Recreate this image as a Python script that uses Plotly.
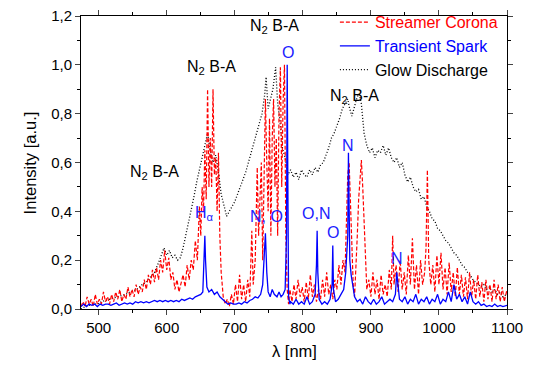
import plotly.graph_objects as go

# ---------------- data ----------------
red_wl = [474, 477, 480, 483, 486, 489, 492, 495, 498, 501, 504, 507, 510, 513, 516, 519, 522, 525, 528, 531,
          534, 537, 540, 543, 546, 549, 552, 555, 558, 561, 564, 567, 570, 573, 576, 579, 582, 585, 588, 591,
          594, 597, 600, 603, 606, 609, 612, 615, 618, 621, 624, 627, 630, 633, 636, 639, 642, 645, 648, 650,
          652, 654, 656, 658, 660, 662, 664, 666, 668, 670, 672, 674, 676, 678, 680, 683, 686, 689, 692, 695,
          698, 701, 704, 707, 710, 713, 716, 719, 722, 725, 727, 730, 733, 735, 737, 739, 741, 743, 745, 747,
          749, 751, 753, 755, 757, 759, 761, 763, 765, 767, 769, 771, 773, 775, 777, 779, 781, 784, 787, 790,
          793, 796, 799, 802, 805, 808, 811, 814, 817, 820, 823, 826, 829, 832, 835, 838, 841, 844, 847, 850,
          853, 856, 859, 862, 864, 866, 868, 870, 872, 874, 876, 878, 880, 882, 884, 886, 888, 890, 892, 894,
          897, 900, 903, 906, 909, 912, 915, 918, 921, 924, 927, 930, 932, 934, 937, 940, 943, 946, 949, 952,
          955, 958, 961, 964, 967, 970, 973, 976, 979, 981, 983, 985, 988, 991, 994, 997, 1000, 1003, 1006, 1009,
          1012, 1015, 1018, 1021, 1024, 1027, 1030, 1033, 1036, 1039, 1042, 1045, 1048, 1051, 1054, 1057, 1060, 1063, 1066, 1069,
          1072, 1075, 1078, 1081, 1084, 1087, 1090, 1093, 1096, 1100]
red_int = [0.01, 0.03, 0.01, 0.05, 0.02, 0.04, 0.01, 0.06, 0.02, 0.04, 0.02, 0.07, 0.03, 0.05, 0.02, 0.06, 0.03, 0.07, 0.04, 0.08,
           0.03, 0.06, 0.04, 0.09, 0.05, 0.08, 0.05, 0.10, 0.06, 0.09, 0.07, 0.12, 0.08, 0.14, 0.10, 0.16, 0.11, 0.17, 0.12, 0.20,
           0.15, 0.24, 0.16, 0.21, 0.12, 0.15, 0.08, 0.12, 0.07, 0.10, 0.14, 0.09, 0.18, 0.12, 0.20, 0.16, 0.28, 0.20, 0.42, 0.30,
           0.50, 0.40, 0.65, 0.45, 0.90, 0.50, 0.70, 0.50, 0.90, 0.55, 0.62, 0.40, 0.64, 0.30, 0.15, 0.05, 0.02, 0.04, 0.01, 0.06,
           0.02, 0.10, 0.03, 0.14, 0.04, 0.10, 0.03, 0.12, 0.05, 0.32, 0.10, 0.20, 0.58, 0.30, 0.45, 0.60, 0.20, 0.50, 0.86, 0.60,
           0.40, 0.78, 0.30, 0.70, 0.86, 0.50, 0.70, 0.30, 0.80, 0.99, 0.50, 0.85, 1.00, 0.30, 0.08, 0.02, 0.08, 0.03, 0.10, 0.04,
           0.12, 0.05, 0.09, 0.03, 0.11, 0.04, 0.14, 0.05, 0.10, 0.03, 0.08, 0.04, 0.12, 0.05, 0.15, 0.06, 0.10, 0.04, 0.12, 0.08,
           0.18, 0.10, 0.20, 0.15, 0.35, 0.55, 0.60, 0.45, 0.30, 0.10, 0.05, 0.15, 0.30, 0.45, 0.55, 0.61, 0.50, 0.35, 0.20, 0.08,
           0.12, 0.05, 0.15, 0.06, 0.12, 0.04, 0.14, 0.06, 0.10, 0.05, 0.16, 0.08, 0.30, 0.10, 0.18, 0.07, 0.20, 0.08, 0.15, 0.06,
           0.22, 0.10, 0.29, 0.08, 0.18, 0.06, 0.20, 0.10, 0.15, 0.25, 0.57, 0.20, 0.10, 0.18, 0.07, 0.22, 0.10, 0.23, 0.08, 0.17,
           0.06, 0.19, 0.07, 0.15, 0.05, 0.17, 0.06, 0.14, 0.05, 0.13, 0.04, 0.15, 0.05, 0.12, 0.04, 0.14, 0.05, 0.11, 0.03, 0.12,
           0.04, 0.10, 0.03, 0.12, 0.04, 0.10, 0.03, 0.09, 0.03, 0.08]

blue_wl = [474, 478, 482, 486, 490, 494, 498, 502, 506, 510, 514, 518, 522, 526, 530, 534, 538, 542, 546, 550,
           554, 558, 562, 566, 570, 574, 578, 582, 586, 590, 594, 598, 602, 606, 610, 614, 618, 622, 626, 630,
           634, 638, 642, 646, 650, 653, 655, 656, 657, 659, 662, 666, 670, 674, 678, 682, 686, 690, 694, 698,
           702, 706, 710, 714, 718, 722, 726, 730, 734, 738, 741, 743, 745, 747, 749, 752, 755, 758, 762, 765,
           768, 771, 774, 776, 777, 778, 779, 781, 782, 786, 790, 794, 798, 802, 806, 810, 814, 818, 820, 821,
           822, 824, 828, 832, 836, 840, 843, 844, 845, 848, 852, 856, 860, 863, 866, 867, 868, 869, 871, 873,
           876, 880, 884, 888, 892, 896, 900, 904, 908, 912, 916, 920, 924, 928, 932, 936, 938, 940, 942, 946,
           950, 954, 958, 962, 966, 970, 974, 978, 982, 986, 990, 994, 998, 1002, 1006, 1010, 1014, 1018, 1022, 1026,
           1030, 1034, 1038, 1042, 1046, 1050, 1054, 1058, 1062, 1066, 1070, 1074, 1078, 1082, 1086, 1090, 1094, 1100]
blue_int = [0.01, 0.02, 0.01, 0.02, 0.015, 0.02, 0.01, 0.02, 0.015, 0.02, 0.02, 0.015, 0.02, 0.025, 0.015, 0.02, 0.025, 0.02, 0.025, 0.02,
            0.03, 0.025, 0.03, 0.025, 0.03, 0.025, 0.03, 0.035, 0.03, 0.035, 0.03, 0.035, 0.03, 0.035, 0.03, 0.035, 0.03, 0.04, 0.035, 0.04,
            0.045, 0.04, 0.05, 0.055, 0.06, 0.07, 0.20, 0.30, 0.20, 0.09, 0.07, 0.08, 0.06, 0.07, 0.05, 0.04, 0.03, 0.02, 0.025, 0.02,
            0.02, 0.025, 0.02, 0.03, 0.025, 0.035, 0.04, 0.05, 0.045, 0.06, 0.10, 0.20, 0.31, 0.15, 0.07, 0.05, 0.08, 0.06, 0.05, 0.07,
            0.05, 0.06, 0.08, 0.30, 1.00, 0.50, 0.05, 0.02, 0.03, 0.02, 0.04, 0.02, 0.03, 0.02, 0.05, 0.02, 0.03, 0.06, 0.18, 0.32,
            0.15, 0.04, 0.02, 0.03, 0.02, 0.04, 0.10, 0.26, 0.08, 0.03, 0.04, 0.06, 0.08, 0.15, 0.30, 0.64, 0.45, 0.20, 0.14, 0.10,
            0.05, 0.03, 0.04, 0.02, 0.05, 0.03, 0.02, 0.04, 0.02, 0.03, 0.05, 0.02, 0.03, 0.04, 0.03, 0.06, 0.15, 0.08, 0.04, 0.03,
            0.05, 0.02, 0.04, 0.03, 0.06, 0.02, 0.04, 0.03, 0.05, 0.02, 0.04, 0.03, 0.06, 0.02, 0.04, 0.03, 0.07, 0.03, 0.10, 0.04,
            0.06, 0.03, 0.05, 0.02, 0.07, 0.03, 0.02, 0.03, 0.015, 0.02, 0.01, 0.015, 0.01, 0.02, 0.01, 0.015, 0.01, 0.015]

glow_wl = [474, 480, 486, 492, 498, 504, 510, 516, 522, 528, 534, 540, 546, 552, 558, 564, 570, 576, 582, 588,
           592, 596, 600, 604, 608, 612, 616, 620, 624, 628, 632, 636, 640, 644, 648, 652, 656, 660, 664, 668,
           672, 676, 680, 684, 688, 692, 696, 700, 704, 708, 712, 716, 720, 724, 728, 732, 736, 740, 744, 746,
           749, 752, 756, 760, 763, 766, 770, 774, 778, 782, 786, 790, 794, 798, 802, 806, 810, 814, 818, 822,
           826, 830, 834, 838, 842, 846, 850, 854, 858, 862, 866, 868, 872, 876, 880, 883, 886, 890, 894, 898,
           902, 906, 910, 914, 918, 922, 926, 930, 934, 938, 942, 946, 950, 954, 958, 962, 966, 970, 974, 978,
           982, 986, 990, 994, 998, 1002, 1006, 1010, 1014, 1018, 1022, 1026, 1030, 1034, 1038, 1042, 1046, 1050, 1054, 1058,
           1062, 1066, 1070, 1074, 1078, 1082, 1086, 1090, 1094, 1100]
glow_int = [0.00, 0.01, 0.015, 0.02, 0.02, 0.03, 0.035, 0.04, 0.045, 0.05, 0.055, 0.06, 0.07, 0.075, 0.085, 0.10, 0.11, 0.13, 0.15, 0.19,
            0.22, 0.25, 0.22, 0.24, 0.21, 0.22, 0.20, 0.21, 0.25, 0.30, 0.36, 0.41, 0.46, 0.52, 0.57, 0.62, 0.68, 0.72, 0.65, 0.60,
            0.63, 0.56, 0.47, 0.42, 0.38, 0.40, 0.42, 0.44, 0.47, 0.50, 0.53, 0.56, 0.60, 0.64, 0.68, 0.72, 0.76, 0.80, 0.88, 0.95,
            0.82, 0.86, 0.90, 0.99, 0.84, 0.78, 0.66, 0.62, 0.55, 0.57, 0.54, 0.56, 0.53, 0.57, 0.55, 0.54, 0.57, 0.55, 0.58, 0.56,
            0.59, 0.60, 0.63, 0.66, 0.70, 0.72, 0.75, 0.78, 0.82, 0.84, 0.86, 0.83, 0.79, 0.83, 0.87, 0.88, 0.84, 0.72, 0.67, 0.64,
            0.66, 0.62, 0.65, 0.64, 0.67, 0.63, 0.66, 0.62, 0.60, 0.62, 0.58, 0.60, 0.55, 0.52, 0.54, 0.50, 0.48, 0.49, 0.45, 0.46,
            0.42, 0.40, 0.37, 0.36, 0.33, 0.32, 0.30, 0.28, 0.27, 0.25, 0.23, 0.22, 0.20, 0.18, 0.17, 0.15, 0.14, 0.12, 0.11, 0.10,
            0.09, 0.10, 0.08, 0.09, 0.07, 0.08, 0.06, 0.07, 0.05, 0.06]

# annotation labels: (text, wavelength, intensity)
black_labels = [("N<sub>2</sub> B-A", 582, 0.56), ("N<sub>2</sub> B-A", 666, 0.99),
                ("N<sub>2</sub> B-A", 758, 1.155), ("N<sub>2</sub> B-A", 876, 0.87)]
blue_labels = [("O", 777.5, 1.05), ("H<sub>α</sub>", 656, 0.39), ("N, O", 746, 0.38),
               ("O,N", 820, 0.39), ("O", 844, 0.315), ("N", 867, 0.67), ("N", 939, 0.205)]

x_ticks = [500, 600, 700, 800, 900, 1000, 1100]
y_ticks = [0.0, 0.2, 0.4, 0.6, 0.8, 1.0, 1.2]
y_ticktext = ["0,0", "0,2", "0,4", "0,6", "0,8", "1,0", "1,2"]
x_title = "λ [nm]"
y_title = "Intensity [a.u.]"

FONT = "Liberation Sans, Arial, sans-serif"

fig = go.Figure()
fig.add_trace(go.Scatter(x=glow_wl, y=glow_int, mode="lines",
                         name='<span style="color:#000000">Glow Discharge</span>',
                         line=dict(color="#000000", width=1.3, dash="1px,2px"),
                         legendgroup="c", legendrank=3))
fig.add_trace(go.Scatter(x=red_wl, y=red_int, mode="lines",
                         name='<span style="color:#ff0000">Streamer Corona</span>',
                         line=dict(color="#ff0000", width=1.2, dash="4px,2px"),
                         legendgroup="a", legendrank=1))
fig.add_trace(go.Scatter(x=blue_wl, y=blue_int, mode="lines",
                         name='<span style="color:#0000ff">Transient Spark</span>',
                         line=dict(color="#0000ff", width=1.3),
                         legendgroup="b", legendrank=2))

for t, xv, yv in black_labels:
    fig.add_annotation(x=xv, y=yv, text=t, showarrow=False,
                       font=dict(family=FONT, size=16, color="#000000"))
for t, xv, yv in blue_labels:
    fig.add_annotation(x=xv, y=yv, text=t, showarrow=False,
                       font=dict(family=FONT, size=16, color="#2020ff"))

# axis titles
fig.add_annotation(xref="paper", yref="paper", x=0.5, y=-0.145, text=x_title, showarrow=False,
                   font=dict(family=FONT, size=16.5, color="#000000"), xanchor="center", yanchor="middle")
fig.add_annotation(xref="paper", yref="paper", x=-0.12, y=0.5, text=y_title, showarrow=False, textangle=-90,
                   font=dict(family=FONT, size=16.5, color="#000000"), xanchor="center", yanchor="middle")

fig.update_layout(
    width=534, height=370,
    margin=dict(l=81, r=27, t=16, b=61, autoexpand=False),
    paper_bgcolor="white", plot_bgcolor="white",
    font=dict(family=FONT, size=15, color="#000000"),
    showlegend=True,
    legend=dict(x=0.596, y=1.037, xanchor="left", yanchor="top",
                bgcolor="rgba(0,0,0,0)", font=dict(size=16),
                traceorder="grouped", tracegroupgap=0, itemwidth=30),
)
fig.update_xaxes(range=[474, 1100], tickvals=x_ticks, ticks="outside", ticklen=5,
                 showline=True, linecolor="black", linewidth=1, mirror="allticks",
                 showgrid=False, zeroline=False, tickfont=dict(size=15), automargin=False,
                 minor=dict(dtick=50, ticks="outside", ticklen=3, tickcolor="black"))
fig.update_yaxes(range=[0, 1.2], tickvals=y_ticks, ticktext=y_ticktext, ticks="outside", ticklen=5,
                 showline=True, linecolor="black", linewidth=1, mirror="allticks",
                 showgrid=False, zeroline=False, tickfont=dict(size=15), automargin=False,
                 minor=dict(dtick=0.1, ticks="outside", ticklen=3, tickcolor="black"))

fig.write_html("out.html", config={"displayModeBar": False},
               post_script="document.body.style.margin='0';document.body.style.padding='0';")
